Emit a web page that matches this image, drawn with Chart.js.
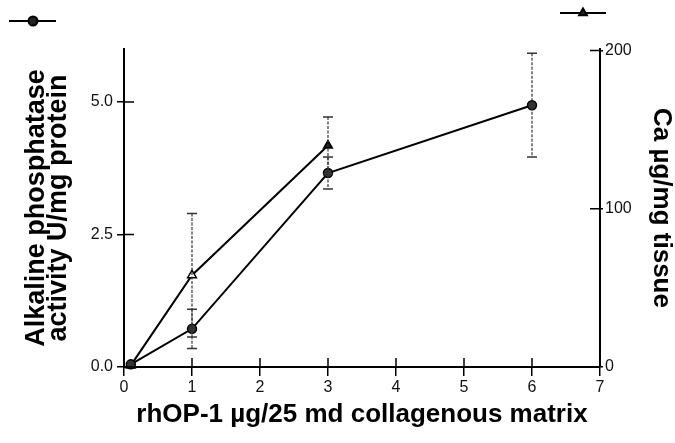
<!DOCTYPE html>
<html lang="en">
<head>
<meta charset="UTF-8">
<title>rhOP-1 dose response</title>
<script src="https://cdn.jsdelivr.net/npm/chart.js"></script>
<style>
  html, body { margin: 0; padding: 0; background: #fff; }
  #doseChart { display: block; }
</style>
</head>
<body>
<canvas id="doseChart" width="675" height="443"></canvas>
<script>
// dose of rhOP-1 (ug / 25 mg matrix)
const alpDose   = [0.1, 1, 3, 6];
const alpValues = [0.05, 0.72, 3.66, 4.94];   // alkaline phosphatase, U/mg protein
const alpErrors = [0, 0.37, 0.30, 0.98];

const caDose   = [0.1, 1, 3];
const caValues = [1, 58, 140];                // calcium, ug/mg tissue
const caErrors = [0, 39, 18];

const xTicks   = [0, 1, 2, 3, 4, 5, 6, 7];
const alpTicks = [0, 2.5, 5.0];
const caTicks  = [0, 100, 200];

const toPoints = (xs, ys) => xs.map((x, i) => ({ x: x, y: ys[i] }));

// vertical error bars, from the errors kept on each dataset
const errorBars = {
    id: 'errorBars',
    afterDatasetsDraw(chart) {
        const ctx = chart.ctx;
        chart.data.datasets.forEach((ds, di) => {
            const meta = chart.getDatasetMeta(di);
            const yScale = chart.scales[ds.yAxisID];
            ds.errors.forEach((err, i) => {
                if (!err) return;
                const pt = meta.data[i];
                const v = ds.data[i].y;
                const yTop = yScale.getPixelForValue(v + err);
                const yBot = yScale.getPixelForValue(v - err);
                ctx.save();
                ctx.strokeStyle = '#333';
                ctx.lineWidth = 1.2;
                ctx.setLineDash([3, 1.5]);
                ctx.beginPath();
                ctx.moveTo(pt.x, yTop);
                ctx.lineTo(pt.x, yBot);
                ctx.stroke();
                ctx.setLineDash([]);
                ctx.lineWidth = 1.5;
                ctx.beginPath();
                ctx.moveTo(pt.x - 5, yTop); ctx.lineTo(pt.x + 5, yTop);
                ctx.moveTo(pt.x - 5, yBot); ctx.lineTo(pt.x + 5, yBot);
                ctx.stroke();
                ctx.restore();
            });
        });
    }
};

// tick marks that cross into the plot area as well
const innerTicks = {
    id: 'innerTicks',
    afterDraw(chart) {
        const ctx = chart.ctx;
        const area = chart.chartArea;
        ctx.save();
        ctx.strokeStyle = '#000';
        ctx.lineWidth = 1.5;
        ctx.beginPath();
        chart.scales.x.ticks.forEach(t => {
            const px = chart.scales.x.getPixelForValue(t.value);
            ctx.moveTo(px, area.bottom);
            ctx.lineTo(px, area.bottom - 9);
        });
        chart.scales.yAlp.ticks.forEach(t => {
            const py = chart.scales.yAlp.getPixelForValue(t.value);
            ctx.moveTo(area.left, py);
            ctx.lineTo(area.left + 10, py);
        });
        chart.scales.yCa.ticks.forEach(t => {
            const py = chart.scales.yCa.getPixelForValue(t.value);
            ctx.moveTo(area.right, py);
            ctx.lineTo(area.right - 10, py);
        });
        ctx.stroke();
        ctx.restore();
    }
};

// the two little series keys in the top corners
const cornerKeys = {
    id: 'cornerKeys',
    afterDraw(chart) {
        const ctx = chart.ctx;
        const keys = [
            { x0: 9, x1: 56, xm: 33, y: 21, style: 'circle', fill: '#222' },
            { x0: 560, x1: 606, xm: 583, y: 13, style: 'triangle', fill: '#222' }
        ];
        ctx.save();
        keys.forEach(k => {
            ctx.strokeStyle = '#000';
            ctx.lineWidth = 2;
            ctx.beginPath();
            ctx.moveTo(k.x0, k.y);
            ctx.lineTo(k.x1, k.y);
            ctx.stroke();
            ctx.fillStyle = k.fill;
            Chart.helpers.drawPoint(ctx, { pointStyle: k.style, radius: 4.5, borderWidth: 1.5 }, k.xm, k.y);
        });
        ctx.restore();
    }
};

const tickFont = { family: 'Arial, "Liberation Sans", sans-serif', size: 16 };
const titleFont = { family: 'Arial, "Liberation Sans", sans-serif', size: 26, weight: 'bold' };

const ctx = document.getElementById('doseChart').getContext('2d');
new Chart(ctx, {
    type: 'line',
    data: {
        datasets: [
            {
                label: 'Alkaline phosphatase',
                data: toPoints(alpDose, alpValues),
                errors: alpErrors,
                yAxisID: 'yAlp',
                borderColor: '#000',
                borderWidth: 2,
                pointStyle: 'circle',
                pointRadius: 4.5,
                pointBorderWidth: 1.5,
                pointBorderColor: '#000',
                pointBackgroundColor: '#333',
                tension: 0,
                clip: false
            },
            {
                label: 'Ca',
                data: toPoints(caDose, caValues),
                errors: caErrors,
                yAxisID: 'yCa',
                borderColor: '#000',
                borderWidth: 2,
                pointStyle: 'triangle',
                pointRadius: 5,
                pointBorderWidth: 1.5,
                pointBorderColor: '#000',
                pointBackgroundColor: ['#111', '#fff', '#111'],
                tension: 0,
                clip: false
            }
        ]
    },
    options: {
        responsive: false,
        animation: false,
        layout: { padding: { top: 49, left: 0, right: 0, bottom: 0 } },
        plugins: {
            legend: { display: false },
            tooltip: { enabled: false }
        },
        scales: {
            x: {
                type: 'linear',
                position: 'bottom',
                min: 0,
                max: 7,
                afterBuildTicks: s => { s.ticks = xTicks.map(v => ({ value: v })); },
                afterFit: s => { s.height = 76; },
                grid: { drawOnChartArea: false, tickLength: 9, color: '#000', lineWidth: 1.5 },
                border: { color: '#000', width: 2 },
                ticks: { font: tickFont, color: '#111', padding: 2 },
                title: {
                    display: true,
                    text: 'rhOP-1 µg/25 md collagenous matrix',
                    font: titleFont,
                    color: '#000',
                    padding: { top: 0, bottom: 13 }
                }
            },
            yAlp: {
                type: 'linear',
                position: 'left',
                min: 0,
                max: 6,
                afterBuildTicks: s => { s.ticks = alpTicks.map(v => ({ value: v })); },
                afterFit: s => { s.width = 124; },
                grid: { drawOnChartArea: false, tickLength: 7, color: '#000', lineWidth: 1.5 },
                border: { color: '#000', width: 2 },
                ticks: { font: tickFont, color: '#111', padding: 4, callback: v => v.toFixed(1) },
                title: {
                    display: true,
                    text: ['Alkaline phosphatase', 'activity U/mg protein'],
                    font: Object.assign({}, titleFont, { size: 27, lineHeight: 0.82 }),
                    color: '#000',
                    padding: { top: 25, bottom: 0 }
                }
            },
            yCa: {
                type: 'linear',
                position: 'right',
                min: 0,
                max: 201,
                afterBuildTicks: s => { s.ticks = caTicks.map(v => ({ value: v })); },
                afterFit: s => { s.width = 75; },
                grid: { drawOnChartArea: false, tickLength: 3, color: '#000', lineWidth: 1.5 },
                border: { color: '#000', width: 2 },
                ticks: { font: tickFont, color: '#111', padding: 2 },
                title: {
                    display: true,
                    text: 'Ca µg/mg tissue',
                    font: Object.assign({}, titleFont, { lineHeight: 1.0 }),
                    color: '#000',
                    padding: { top: 1, bottom: 0 }
                }
            }
        }
    },
    plugins: [errorBars, innerTicks, cornerKeys]
});
</script>
</body>
</html>
